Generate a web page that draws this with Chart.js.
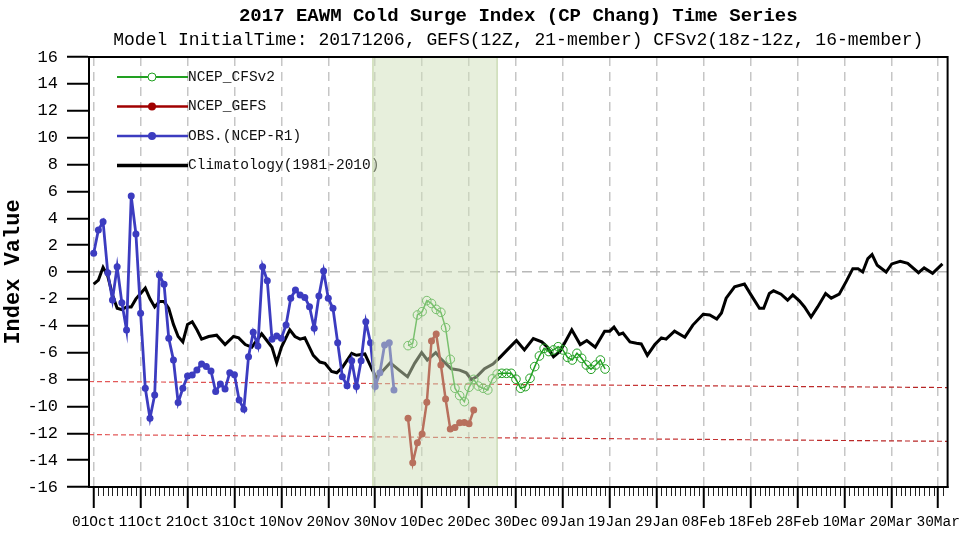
<!DOCTYPE html>
<html>
<head>
<meta charset="utf-8">
<script src="https://cdn.jsdelivr.net/npm/chart.js@4.4.1/dist/chart.umd.min.js"></script>
<style>
  html, body { margin: 0; padding: 0; background: #fff; }
  canvas { display: block; }
</style>
</head>
<body>
<canvas id="chart" width="960" height="536"></canvas>
<script>
const MONO = '"Liberation Mono", "DejaVu Sans Mono", monospace';

// x = days since 01 Oct 2017
const tickDays = [0, 10, 20, 30, 40, 50, 60, 70, 80, 90, 100, 110, 120, 130, 140, 150, 160, 170, 180];
const tickLabels = ['01Oct', '11Oct', '21Oct', '31Oct', '10Nov', '20Nov', '30Nov', '10Dec', '20Dec', '30Dec',
  '09Jan', '19Jan', '29Jan', '08Feb', '18Feb', '28Feb', '10Mar', '20Mar', '30Mar'];

// observed index, daily from 01 Oct
const obsStart = 0;
const obsValues = [1.39, 3.13, 3.74, -0.05, -2.08, 0.40, -2.28, -4.32, 5.65, 2.83,
  -3.07, -8.65, -10.89, -9.15, -0.22, -0.92, -4.93, -6.55, -9.72, -8.65,
  -7.74, -7.67, -7.29, -6.85, -7.04, -7.37, -8.9, -8.33, -8.71, -7.49,
  -7.65, -9.52, -10.22, -6.3, -4.49, -5.5, 0.40, -0.65, -5.0, -4.76,
  -4.93, -3.94, -1.96, -1.34, -1.71, -1.89, -2.58, -4.19, -1.79, 0.07,
  -1.96, -2.70, -5.26, -7.79, -8.46, -6.6, -8.53, -6.6, -3.7, -5.26,
  -8.53, -7.49, -5.43, -5.26, -8.78];

// forecasts, daily from 07 Dec
const gefsStart = 67;
const gefsValues = [-10.89, -14.19, -12.7, -12.05, -9.7, -5.13, -4.61, -6.92, -9.45, -11.68,
  -11.58, -11.21, -11.2, -11.3, -10.27];

const cfsStart = 67;
const cfsValues = [-5.48, -5.31, -3.2, -2.95, -2.13, -2.34, -2.78, -3.0, -4.14, -6.5,
  -8.65, -9.2, -9.65, -8.58, -7.99, -8.49, -8.65, -8.78, -7.95, -7.59,
  -7.54, -7.54, -7.54, -7.98, -8.65, -8.53, -7.91, -7.04, -6.25, -5.68,
  -5.92, -5.8, -5.56, -5.8, -6.35, -6.55, -6.05, -6.42, -6.92, -7.24,
  -6.92, -6.55, -7.22];

// climatology 1981-2010
const climDays = [0, 1, 2, 3, 4, 5, 6, 7, 8, 9, 10, 11, 12, 13, 14, 15, 16, 17, 18, 19, 20, 21, 22, 23,
  24.5, 26.2, 28, 29.8, 30.9, 32.3, 33.7, 35.8, 36.9, 38, 39, 40, 41.8, 42.9, 44, 45, 45.7, 46.8,
  48.2, 49.3, 50.7, 51.8, 53, 55, 56, 57.8, 59.4, 60.3, 61.5, 63.2, 65.1, 66.9, 68.4, 69.9, 71.1,
  72.9, 74.1, 76.2, 78, 79.4, 80.5, 81.6, 83.3, 85.1, 86.6, 88.4, 90.1, 91.8, 93.7, 95.5, 96.6,
  98, 99.4, 100.9, 101.9, 103.7, 105.1, 106.9, 108.9, 110, 110.9, 112, 112.8, 114.3, 115.7, 116.7,
  118, 119.6, 121, 122, 123.8, 126, 127.7, 129.9, 131.3, 132.8, 133.8, 134.8, 136.6, 138.7, 140.1,
  141.9, 142.8, 144, 144.9, 146.5, 147.9, 149, 150.4, 151.5, 152.9, 154.3, 156, 157.2, 158.9,
  160.4, 161.8, 162.9, 163.9, 165, 165.9, 167, 168.9, 170.1, 171.9, 173.5, 175.8, 177, 178.8, 180.9];
const climValues = [-0.9, -0.6, 0.35, -0.3, -1.7, -2.7, -2.8, -2.6, -2.6, -2.0, -1.6, -1.2, -2.0, -2.6,
  -2.2, -2.2, -2.7, -3.9, -4.8, -5.2, -3.9, -3.7, -4.3, -5.0,
  -4.8, -4.7, -5.4, -4.8, -4.9, -5.4, -5.6, -4.6, -5.1, -5.6, -6.75, -5.6, -4.3, -4.8, -5.0, -4.9, -5.4, -6.2,
  -6.7, -6.8, -7.4, -7.5, -7.1, -6.05, -6.2, -6.1, -7.3, -7.9, -7.4, -6.75, -7.3, -7.8, -6.8, -6.0, -6.55,
  -6.0, -6.5, -7.2, -7.3, -7.5, -8.0, -7.8, -7.2, -6.85, -6.35, -5.7, -5.1, -5.8, -4.95, -5.2, -5.55,
  -6.3, -5.9, -4.95, -4.3, -5.4, -5.1, -5.6, -4.4, -4.4, -4.1, -4.65, -4.55, -5.2, -5.3, -5.35,
  -6.2, -5.4, -4.9, -5.0, -4.4, -4.85, -3.95, -3.15, -3.2, -3.5, -3.05, -1.95, -1.1, -0.9, -1.7,
  -2.7, -2.7, -1.6, -1.4, -1.65, -2.1, -1.7, -2.15, -2.6, -3.35, -2.6, -1.6, -1.95, -1.65,
  -0.7, 0.25, 0.25, 0.0, 1.0, 1.3, 0.5, 0.0, 0.6, 0.8, 0.65, -0.05, 0.3, -0.1, 0.6];

// threshold lines
const thresholdDays = [-1, 182];
const upperThreshold = [-8.15, -8.6];
const lowerThreshold = [-12.1, -12.6];

// forecast window shading
const shadeStart = 59.5;
const shadeEnd = 86;

const series = (start, vals) => vals.map((v, i) => ({ x: start + i, y: v }));
const pairs = (xs, ys) => xs.map((x, i) => ({ x: x, y: ys[i] }));

const BLUE = '#3c3cc0', RED = '#a00000', GREEN = '#22a022';

// red dashes go darker towards the right
const redFade = (c) => {
  const a = c.chart.chartArea;
  if (!a) return '#d43c3c';
  const g = c.chart.ctx.createLinearGradient(a.left, 0, a.right, 0);
  g.addColorStop(0, '#e45a5a');
  g.addColorStop(1, '#b52222');
  return g;
};

const datasets = [
  { label: 'NCEP_CFSv2', data: series(cfsStart, cfsValues), borderColor: GREEN, borderWidth: 1.5,
    pointRadius: 4.3, pointBackgroundColor: 'rgba(0,0,0,0)', pointBorderColor: GREEN, pointBorderWidth: 1, order: 1 },
  { label: 'NCEP_GEFS', data: series(gefsStart, gefsValues), borderColor: RED, borderWidth: 2.5,
    pointRadius: 3.5, pointBackgroundColor: RED, pointBorderColor: RED, pointBorderWidth: 0, order: 2 },
  { label: 'OBS.(NCEP-R1)', data: series(obsStart, obsValues), borderColor: BLUE, borderWidth: 2.8,
    pointRadius: 3.5, pointBackgroundColor: BLUE, pointBorderColor: BLUE, pointBorderWidth: 0, order: 3 },
  { label: 'Climatology(1981-2010)', data: pairs(climDays, climValues), borderColor: '#000', borderWidth: 3,
    pointRadius: 0, order: 4 },
  { label: 'upper', data: pairs(thresholdDays, upperThreshold), borderColor: redFade, borderWidth: 1.2,
    borderDash: [5, 3], pointRadius: 0, order: 5 },
  { label: 'lower', data: pairs(thresholdDays, lowerThreshold), borderColor: redFade, borderWidth: 1.2,
    borderDash: [5, 3], pointRadius: 0, order: 6 }
];

const decor = {
  id: 'decor',
  beforeDraw(chart) {
    const ctx = chart.ctx;
    ctx.save();
    ctx.fillStyle = '#fff';
    ctx.fillRect(0, 0, chart.width, chart.height);
    ctx.restore();
  },
  afterDatasetsDraw(chart) {
    const ctx = chart.ctx, a = chart.chartArea, xs = chart.scales.x;
    const ds = chart.data.datasets;
    ctx.save();
    // legend
    const rows = [0, 1, 2, 3];
    rows.forEach((k, i) => {
      const d = ds[k];
      const y = 77 + i * 29.5;
      ctx.strokeStyle = d.borderColor;
      ctx.lineWidth = k === 3 ? 3.5 : (k === 0 ? 1.8 : 2.5);
      ctx.beginPath();
      ctx.moveTo(117, y);
      ctx.lineTo(188, y);
      ctx.stroke();
      if (d.pointRadius) {
        ctx.beginPath();
        ctx.arc(152, y, 4, 0, Math.PI * 2);
        if (k === 0) {
          ctx.fillStyle = '#fff';
          ctx.fill();
          ctx.lineWidth = 1;
          ctx.strokeStyle = d.borderColor;
          ctx.stroke();
        } else {
          ctx.fillStyle = d.borderColor;
          ctx.fill();
        }
      }
      ctx.fillStyle = '#111';
      ctx.font = '14.5px ' + MONO;
      ctx.textAlign = 'left';
      ctx.textBaseline = 'middle';
      ctx.fillText(d.label, 188, y);
    });
    // shaded forecast window
    const x0 = xs.getPixelForValue(shadeStart), x1 = xs.getPixelForValue(shadeEnd);
    ctx.fillStyle = 'rgba(207,223,185,0.5)';
    ctx.fillRect(x0, a.top, x1 - x0, a.bottom - a.top);
    ctx.strokeStyle = 'rgba(190,210,160,0.7)';
    ctx.lineWidth = 1.5;
    ctx.strokeRect(x0, a.top, x1 - x0, a.bottom - a.top);
    ctx.restore();
  },
  afterDraw(chart) {
    const ctx = chart.ctx, a = chart.chartArea, xs = chart.scales.x;
    ctx.save();
    // daily minor ticks
    ctx.strokeStyle = '#222';
    ctx.lineWidth = 1;
    for (let d = 0; d <= 181; d++) {
      if (d % 10 === 0) continue;
      const x = Math.round(xs.getPixelForValue(d)) + 0.5;
      ctx.beginPath();
      ctx.moveTo(x, a.bottom + 1);
      ctx.lineTo(x, a.bottom + 9);
      ctx.stroke();
    }
    // frame
    ctx.strokeStyle = '#000';
    ctx.lineWidth = 2;
    ctx.strokeRect(a.left, a.top, a.right - a.left, a.bottom - a.top);
    // titles
    const cx = (a.left + a.right) / 2;
    ctx.fillStyle = '#000';
    ctx.textAlign = 'center';
    ctx.textBaseline = 'middle';
    ctx.font = 'bold 19px ' + MONO;
    ctx.fillText('2017 EAWM Cold Surge Index (CP Chang) Time Series', cx, 16);
    ctx.font = '18px ' + MONO;
    ctx.fillText('Model InitialTime: 20171206, GEFS(12Z, 21-member) CFSv2(18z-12z, 16-member)', cx, 40);
    ctx.restore();
  }
};

new Chart(document.getElementById('chart'), {
  type: 'line',
  data: { datasets: datasets },
  options: {
    responsive: false,
    animation: false,
    layout: { padding: { top: 57, right: 12.4, left: 0, bottom: 0 } },
    plugins: { legend: { display: false }, tooltip: { enabled: false }, title: { display: false } },
    elements: { line: { tension: 0 } },
    scales: {
      x: {
        type: 'linear',
        min: -1,
        max: 182,
        afterFit: (s) => { s.height = 49; s.paddingLeft = 0; s.paddingRight = 0; },
        afterBuildTicks: (s) => { s.ticks = tickDays.map(v => ({ value: v })); },
        ticks: {
          autoSkip: false,
          maxRotation: 0,
          padding: 5,
          color: '#000',
          font: { family: MONO, size: 14.5 },
          callback: (v, i) => tickLabels[i]
        },
        grid: {
          color: '#c6c6c6',
          lineWidth: 1.5,
          tickColor: '#000',
          tickWidth: 2,
          tickLength: 21
        },
        border: { display: true, color: '#000', width: 2, dash: [9, 6] }
      },
      y: {
        min: -16,
        max: 16,
        afterFit: (s) => { s.width = 89; s.paddingTop = 0; s.paddingBottom = 0; },
        ticks: {
          stepSize: 2,
          padding: 9,
          color: '#000',
          font: { family: MONO, size: 17 }
        },
        grid: {
          color: (c) => (c.tick && c.tick.value === 0 ? '#b8b8b8' : 'rgba(0,0,0,0)'),
          lineWidth: 1.5,
          tickColor: '#000',
          tickWidth: 2,
          tickLength: 22
        },
        border: { display: true, color: '#000', width: 2, dash: [10, 6] },
        title: {
          display: true,
          text: 'Index Value',
          color: '#000',
          padding: { top: 0, bottom: 0 },
          font: { family: MONO, size: 22, weight: 'bold' }
        }
      }
    }
  },
  plugins: [decor]
});
</script>
</body>
</html>
